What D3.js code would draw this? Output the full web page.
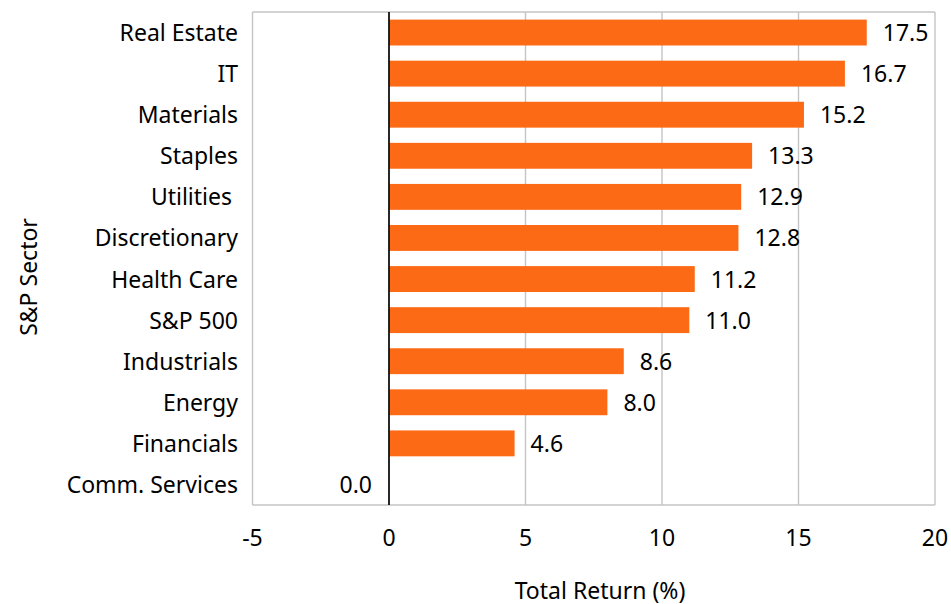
<!DOCTYPE html>
<html lang="en">
<head>
    <meta charset="UTF-8">
    <title>S&amp;P Sector Total Return</title>
    <script src="https://d3js.org/d3.v7.min.js"></script>
    <style>
        body { margin: 0; background: #fff; }
        text { font-family: Tahoma, "Noto Sans", "DejaVu Sans", sans-serif; fill: #000; white-space: pre; }
    </style>
</head>
<body>
    <div id="chart"></div>

    <script>
        // dados do gráfico
        const sectors = ["Real Estate", "IT", "Materials", "Staples", "Utilities ", "Discretionary",
                         "Health Care", "S&P 500", "Industrials", "Energy", "Financials", "Comm. Services"];
        const returns = [17.5, 16.7, 15.2, 13.3, 12.9, 12.8, 11.2, 11.0, 8.6, 8.0, 4.6, 0.0];
        const xTicks = [-5, 0, 5, 10, 15, 20];

        const width = 951;
        const height = 604;
        const margin = { top: 12, right: 16, bottom: 99, left: 252.5 };
        const fontSize = 23;

        const svg = d3.select('#chart').append('svg')
            .attr('width', width)
            .attr('height', height);

        const x = d3.scaleLinear()
            .domain([-5, 20])
            .range([margin.left, width - margin.right]);

        const y = d3.scaleBand()
            .domain(sectors)
            .range([margin.top, height - margin.bottom])
            .paddingInner(0.37)
            .paddingOuter(0.185);

        const bottom = height - margin.bottom;

        // grade vertical
        svg.append('g')
            .selectAll('line')
            .data(xTicks.filter(d => d !== 0))
            .join('line')
            .attr('x1', d => x(d))
            .attr('x2', d => x(d))
            .attr('y1', margin.top)
            .attr('y2', bottom)
            .attr('stroke', '#c4c4c4')
            .attr('stroke-width', 1.4);

        // borda superior e inferior
        svg.append('g')
            .selectAll('line')
            .data([margin.top, bottom])
            .join('line')
            .attr('x1', x(-5))
            .attr('x2', x(20))
            .attr('y1', d => d)
            .attr('y2', d => d)
            .attr('stroke', '#c4c4c4')
            .attr('stroke-width', 1.4);

        // barras
        svg.append('g')
            .selectAll('rect')
            .data(sectors)
            .join('rect')
            .attr('x', (d, i) => x(Math.min(0, returns[i])))
            .attr('y', d => y(d))
            .attr('width', (d, i) => Math.abs(x(returns[i]) - x(0)))
            .attr('height', y.bandwidth())
            .attr('fill', '#fd6a15');

        // linha do zero
        svg.append('line')
            .attr('x1', x(0))
            .attr('x2', x(0))
            .attr('y1', margin.top)
            .attr('y2', bottom)
            .attr('stroke', '#111')
            .attr('stroke-width', 1.8);

        const mid = d => y(d) + y.bandwidth() / 2;

        // rótulos de valores
        svg.append('g')
            .selectAll('text')
            .data(sectors)
            .join('text')
            .attr('x', (d, i) => returns[i] > 0 ? x(returns[i]) + 16 : x(0) - 17)
            .attr('y', d => mid(d) + 8.5)
            .attr('text-anchor', (d, i) => returns[i] > 0 ? 'start' : 'end')
            .attr('font-size', fontSize)
            .text((d, i) => returns[i].toFixed(1));

        // categorias
        svg.append('g')
            .selectAll('text')
            .data(sectors)
            .join('text')
            .attr('x', 238)
            .attr('y', d => mid(d) + 8.5)
            .attr('text-anchor', 'end')
            .attr('font-size', fontSize)
            .text(d => d);

        // ticks do eixo x
        svg.append('g')
            .selectAll('text')
            .data(xTicks)
            .join('text')
            .attr('x', d => x(d))
            .attr('y', 546)
            .attr('text-anchor', 'middle')
            .attr('font-size', fontSize)
            .text(d => d);

        // títulos
        svg.append('text')
            .attr('x', 600)
            .attr('y', 598.5)
            .attr('text-anchor', 'middle')
            .attr('font-size', fontSize)
            .text('Total Return (%)');

        svg.append('text')
            .attr('transform', 'translate(36.5,277) rotate(-90)')
            .attr('text-anchor', 'middle')
            .attr('font-size', fontSize)
            .text('S&P Sector');
    </script>
</body>
</html>
